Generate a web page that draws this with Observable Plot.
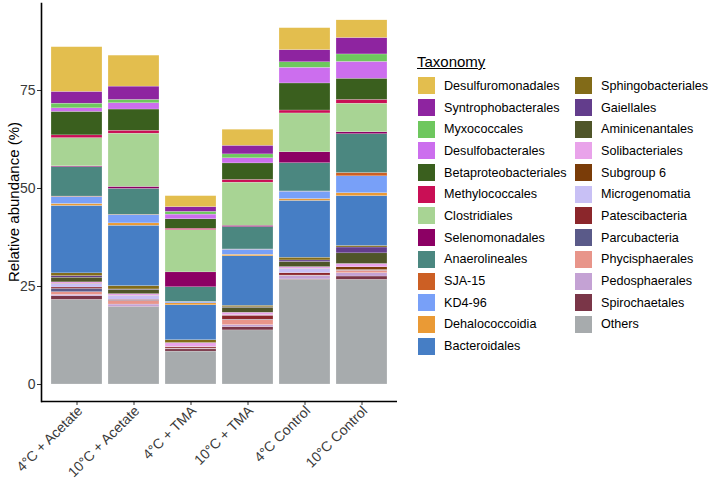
<!DOCTYPE html>
<html>
<head>
<meta charset="utf-8">
<script src="https://cdn.jsdelivr.net/npm/d3@7"></script>
<script src="https://cdn.jsdelivr.net/npm/@observablehq/plot@0.6"></script>
<style>
  html, body { margin: 0; padding: 0; background: #fff; }
  body { width: 709px; height: 479px; position: relative; overflow: hidden; font-family: "Liberation Sans", Arial, sans-serif; }
  #chart { position: absolute; left: 0; top: 0; }
  #legend { position: absolute; left: 417px; top: 53px; font-family: "Liberation Sans", Arial, sans-serif; }
  #legend .title { font-size: 15px; text-decoration: underline; color: #000; height: 22px; }
  #legend .cols { display: flex; flex-direction: row; }
  #legend .col { display: flex; flex-direction: column; }
  #legend .item { display: flex; align-items: center; height: 21.7px; }
  #legend .key { width: 19px; height: 19px; box-sizing: border-box; border: 1px solid #fff; }
  #legend .lab { font-size: 12.6px; color: #000; margin-left: 8px; white-space: nowrap; }
</style>
</head>
<body>
<div id="chart"></div>
<div id="legend"></div>
<script>
const groups = ["4°C + Acetate", "10°C + Acetate", "4°C + TMA", "10°C + TMA", "4°C Control", "10°C Control"];

const taxa = ["Desulfuromonadales", "Syntrophobacterales", "Myxococcales", "Desulfobacterales",
  "Betaproteobacteriales", "Methylococcales", "Clostridiales", "Selenomonadales", "Anaerolineales",
  "SJA-15", "KD4-96", "Dehalococcoidia", "Bacteroidales", "Sphingobacteriales", "Gaiellales",
  "Aminicenantales", "Solibacteriales", "Subgroup 6", "Microgenomatia", "Patescibacteria",
  "Parcubacteria", "Phycisphaerales", "Pedosphaerales", "Spirochaetales", "Others"];

const taxaColors = ["#E3BE4E", "#8E24A0", "#6EC75E", "#CC6EEE",
  "#3A5F1E", "#C90F55", "#A8D494", "#8C0064", "#4B8780",
  "#CC5F24", "#78A0F8", "#EA9A35", "#467EC5", "#826B18", "#633D8C",
  "#4F5529", "#E9A3EA", "#7A3C08", "#C8C0F5", "#8B262B",
  "#5A5A89", "#E8958A", "#C4A2D4", "#7A3648", "#A7ABAD"];

// values (%) in the order of `taxa`
const acetate4  = [11.4, 3.0, 1.2, 0.9, 6.0, 0.7, 7.2, 0.2, 7.5, 0.1, 1.8, 0.5, 17.2, 0.7, 0.4, 1.2, 0.35, 0.1, 0.85, 0.35, 0.85, 0.7, 0.35, 0.9, 21.6];
const acetate10 = [7.9, 3.4, 0.85, 1.6, 5.4, 0.75, 13.6, 0.5, 6.6, 0.1, 2.1, 0.6, 15.4, 0.85, 0.1, 1.1, 0.4, 0.05, 1.0, 0.25, 0.1, 0.85, 0.6, 0.1, 19.7];
const tma4      = [2.8, 1.2, 0.7, 1.2, 2.4, 0.35, 10.8, 3.8, 3.7, 0.05, 0.35, 0.5, 8.9, 0.7, 0.05, 0.05, 0.9, 0.05, 0.1, 0.3, 0.05, 0.05, 0.1, 0.55, 8.4];
const tma10     = [4.1, 2.2, 1.0, 1.3, 4.2, 0.7, 11.0, 0.35, 5.7, 0.05, 1.3, 0.4, 12.6, 0.4, 0.1, 1.3, 0.6, 0.05, 0.1, 1.0, 0.1, 1.3, 0.5, 0.85, 13.8];
const control4  = [5.6, 3.1, 1.4, 4.0, 6.9, 0.75, 9.9, 2.8, 7.2, 0.05, 1.9, 0.45, 14.5, 0.7, 0.4, 1.3, 0.4, 0.05, 1.1, 0.6, 0.05, 0.1, 0.85, 0.1, 26.7];
const control10 = [4.5, 4.2, 1.9, 4.3, 5.4, 0.95, 7.3, 0.5, 9.9, 0.85, 4.3, 0.75, 12.7, 0.4, 1.5, 2.7, 0.85, 0.7, 0.05, 0.1, 0.05, 0.6, 0.85, 0.85, 26.7];

const seriesBySample = [acetate4, acetate10, tma4, tma10, control4, control10];
const yTicks = [0, 25, 50, 75];

// long table, Others first so it sits at the bottom of each stack
const table = [];
groups.forEach((g, gi) => {
  for (let ti = taxa.length - 1; ti >= 0; ti--) {
    table.push({group: g, taxon: taxa[ti], value: seriesBySample[gi][ti]});
  }
});

const pxPerUnit = 3.92;
const chart = Plot.plot({
  width: 405,
  height: 479,
  marginLeft: 41,
  marginRight: 8,
  marginTop: 3,
  marginBottom: 78,
  style: {fontFamily: "'Liberation Sans', Arial, sans-serif", background: "transparent"},
  x: {
    domain: groups,
    paddingInner: 0.1,
    paddingOuter: 0.15,
    label: null
  },
  y: {
    domain: [-17 / pxPerUnit, 381 / pxPerUnit],
    label: null
  },
  color: {domain: taxa, range: taxaColors},
  marks: [
    Plot.barY(table, Plot.stackY({
      x: "group", y: "value", fill: "taxon",
      stroke: "#ffffff", strokeWidth: 0.3, strokeOpacity: 0.7
    })),
    Plot.axisY(yTicks, {tickSize: 4, tickPadding: 2, fontSize: 14, color: "#3A3A3A", label: null, stroke: "#333"}),
    Plot.axisX({tickSize: 4, tickFormat: () => "", label: null, stroke: "#333"}),
    Plot.axisX({tickSize: 0, tickPadding: 7, dx: 3, tickRotate: -45, fontSize: 14, color: "#3A3A3A", label: null}),
    Plot.ruleY([-17 / pxPerUnit], {stroke: "#000", strokeWidth: 1.6}),
    Plot.frame({anchor: "left", stroke: "#000", strokeWidth: 1.6})
  ]
});
document.getElementById("chart").appendChild(chart);

// y title
const svg = d3.select(chart);
svg.append("text")
  .attr("transform", "translate(15,202) rotate(-90)")
  .attr("text-anchor", "middle")
  .attr("dominant-baseline", "middle")
  .attr("font-size", 15)
  .attr("fill", "#000")
  .text("Relative abundance (%)");

// legend
const legend = document.getElementById("legend");
const title = document.createElement("div");
title.className = "title";
title.textContent = "Taxonomy";
legend.appendChild(title);
const cols = document.createElement("div");
cols.className = "cols";
legend.appendChild(cols);
const split = 13;
[taxa.slice(0, split), taxa.slice(split)].forEach((list, ci) => {
  const col = document.createElement("div");
  col.className = "col";
  if (ci === 1) { col.style.position = "absolute"; col.style.left = "157px"; col.style.top = "22px"; }
  list.forEach(t => {
    const item = document.createElement("div");
    item.className = "item";
    const key = document.createElement("div");
    key.className = "key";
    key.style.background = taxaColors[taxa.indexOf(t)];
    const lab = document.createElement("div");
    lab.className = "lab";
    lab.textContent = t;
    item.appendChild(key);
    item.appendChild(lab);
    col.appendChild(item);
  });
  cols.appendChild(col);
});
</script>
</body>
</html>
